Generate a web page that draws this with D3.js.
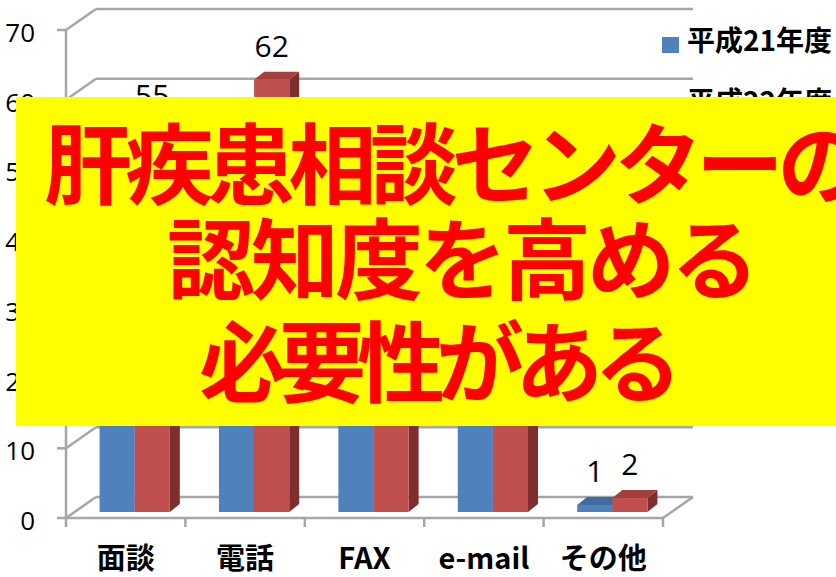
<!DOCTYPE html>
<html>
<head>
<meta charset="utf-8">
<script src="https://cdn.jsdelivr.net/npm/d3@7"></script>
<style>
  body { margin: 0; background: #fff; }
  svg { display: block; }
</style>
</head>
<body>
<svg width="836" height="577"></svg>
<script>
"use strict";
// data
let categories = ["面談", "電話", "FAX", "e-mail", "その他"];
let seriesNames = ["平成21年度", "平成22年度"];
let h21 = [45, 50, 22, 30, 1];
let h22 = [55, 62, 28, 35, 2];
let yTicks = [0, 10, 20, 30, 40, 50, 60, 70];
let overlayLines = ["肝疾患相談センターの", "認知度を高める", "必要性がある"];

let colors = {
    front: ["#4F81BD", "#C0504D"],
    top: ["#3F6CA3", "#A3403D"],
    side: ["#365E8F", "#7E2F2D"]
};

let svg = d3.select("svg");
let grid = "#a6a6a6";

// wall depth offset, and bar offsets inside the depth
let DX = 30, DY = -21;
let BX = 9, BY = -6;      // bar front face offset
let DX2 = 10, DY2 = -8;   // bar depth

let y = d3.scaleLinear().domain([0, 70]).range([518, 30]);
let x = d3.scaleBand().domain(categories).range([66, 663]);
let xs = d3.scaleBand().domain(seriesNames).range([0, x.bandwidth()]).paddingOuter(0.7);

let g = svg.append("g");

// back wall gridlines + side wall diagonals
yTicks.forEach(function(t) {
    g.append("line")
        .attr("x1", 66 + DX).attr("y1", y(t) + DY)
        .attr("x2", 663 + DX).attr("y2", y(t) + DY)
        .attr("stroke", grid).attr("stroke-width", 2.5);
    g.append("line")
        .attr("x1", 66).attr("y1", y(t))
        .attr("x2", 66 + DX).attr("y2", y(t) + DY)
        .attr("stroke", grid).attr("stroke-width", 2.5);
});

// floor front and right edges
g.append("line")
    .attr("x1", 66).attr("y1", y(0)).attr("x2", 663).attr("y2", y(0))
    .attr("stroke", grid).attr("stroke-width", 2.5);
g.append("line")
    .attr("x1", 663).attr("y1", y(0)).attr("x2", 663 + DX).attr("y2", y(0) + DY)
    .attr("stroke", grid).attr("stroke-width", 2.5);

// vertical axis + ticks
g.append("line")
    .attr("x1", 66).attr("y1", y(0)).attr("x2", 66).attr("y2", y(70))
    .attr("stroke", grid).attr("stroke-width", 2.5);
yTicks.forEach(function(t) {
    g.append("line")
        .attr("x1", 57).attr("y1", y(t)).attr("x2", 66).attr("y2", y(t))
        .attr("stroke", grid).attr("stroke-width", 2.5);
    g.append("text")
        .attr("x", 35).attr("y", y(t) + 12)
        .attr("text-anchor", "end")
        .attr("font-family", "'Open Sans', sans-serif")
        .attr("font-size", 26)
        .text(t);
});

// category ticks under the floor
categories.concat(["end"]).forEach(function(c) {
    let px = c === "end" ? 663 : x(c);
    g.append("line")
        .attr("x1", px).attr("y1", y(0)).attr("x2", px).attr("y2", y(0) + 9)
        .attr("stroke", grid).attr("stroke-width", 2.5);
});

// bars
let series = [h21, h22];
categories.forEach(function(c, i) {
    series.forEach(function(vals, s) {
        let v = vals[i];
        let w = xs.bandwidth();
        let xf = x(c) + xs(seriesNames[s]) + BX;
        let yb = y(0) + BY;
        let yt = y(v) + BY;
        let bar = g.append("g");
        bar.append("polygon")
            .attr("points", [[xf + w, yt], [xf + w + DX2, yt + DY2], [xf + w + DX2, yb + DY2], [xf + w, yb]].join(" "))
            .attr("fill", colors.side[s]);
        bar.append("polygon")
            .attr("points", [[xf, yt], [xf + DX2, yt + DY2], [xf + w + DX2, yt + DY2], [xf + w, yt]].join(" "))
            .attr("fill", colors.top[s]);
        bar.append("rect")
            .attr("x", xf).attr("y", yt)
            .attr("width", w).attr("height", yb - yt)
            .attr("fill", colors.front[s]);
    });
});

// value labels
categories.forEach(function(c, i) {
    series.forEach(function(vals, s) {
        let w = xs.bandwidth();
        let xf = x(c) + xs(seriesNames[s]) + BX;
        g.append("text")
            .attr("x", xf + w / 2)
            .attr("y", y(vals[i]) + BY - 23)
            .attr("text-anchor", "middle")
            .attr("font-family", "'Open Sans', sans-serif")
            .attr("font-size", 30)
            .text(vals[i]);
    });
});

// category labels
categories.forEach(function(c) {
    g.append("text")
        .attr("x", x(c) + x.bandwidth() / 2)
        .attr("y", 569)
        .attr("text-anchor", "middle")
        .attr("font-family", "'Noto Sans CJK JP', sans-serif")
        .attr("font-weight", "bold")
        .attr("font-size", 29)
        .text(c);
});

// legend
seriesNames.forEach(function(n, s) {
    g.append("rect")
        .attr("x", 662).attr("y", 37 + s * 61)
        .attr("width", 17).attr("height", 16)
        .attr("fill", colors.front[s]);
    g.append("text")
        .attr("x", 687).attr("y", 51 + s * 61)
        .attr("font-family", "'Noto Sans CJK JP', sans-serif")
        .attr("font-weight", "bold")
        .attr("font-size", 28)
        .text(n);
});

// yellow overlay with message
svg.append("rect")
    .attr("x", 16).attr("y", 97)
    .attr("width", 830).attr("height", 329)
    .attr("fill", "#FFFF00");

let lineX = [44, 167, 199];
let lineY = [197, 292, 395];
let lineSpacing = [-6.5, -4, -9];
overlayLines.forEach(function(t, i) {
    svg.append("text")
        .attr("x", lineX[i]).attr("y", lineY[i])
        .attr("font-family", "'Noto Sans CJK JP', sans-serif")
        .attr("font-weight", "bold")
        .attr("font-size", 88)
        .attr("letter-spacing", lineSpacing[i])
        .attr("fill", "#FF0000")
        .text(t);
});
</script>
</body>
</html>
